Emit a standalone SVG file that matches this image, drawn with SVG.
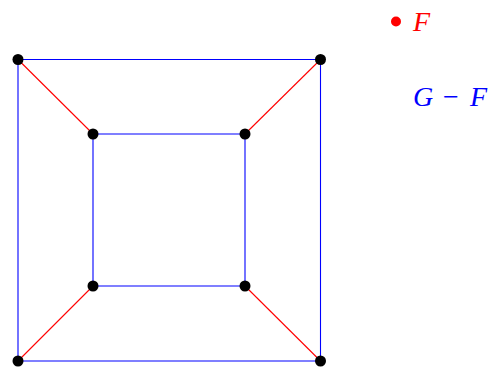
<svg xmlns="http://www.w3.org/2000/svg" width="496" height="372" viewBox="0 0 496 372">
<style>
.b{stroke:#0000ff;stroke-width:1.1;fill:none}
.r{stroke:#ff0000;stroke-width:1.1;fill:none}
.v{fill:#000}
.t{font-family:"Liberation Serif",serif;font-style:italic;font-size:28px}
</style>
<rect width="496" height="372" fill="#fff"/>
<g id="connectors">
<line class="b" x1="18" y1="59.5" x2="320.5" y2="59.5"/>
<line class="b" x1="18" y1="361" x2="320.5" y2="361"/>
<line class="b" x1="18" y1="59.5" x2="18" y2="361"/>
<line class="b" x1="320.5" y1="59.5" x2="320.5" y2="361"/>
<line class="b" x1="93" y1="134" x2="245" y2="134"/>
<line class="b" x1="93" y1="286" x2="245" y2="286"/>
<line class="b" x1="93" y1="134" x2="93" y2="286"/>
<line class="b" x1="245" y1="134" x2="245" y2="286"/>
<line class="r" x1="18" y1="59.5" x2="93" y2="134"/>
<line class="r" x1="320.5" y1="59.5" x2="245" y2="134"/>
<line class="r" x1="18" y1="361" x2="93" y2="286"/>
<line class="r" x1="320.5" y1="361" x2="245" y2="286"/>
</g>
<g id="n1"><circle class="v" cx="18" cy="59.5" r="5.5"/></g>
<g id="n2"><circle class="v" cx="320.5" cy="59.5" r="5.5"/></g>
<g id="n3"><circle class="v" cx="18" cy="361" r="5.5"/></g>
<g id="n4"><circle class="v" cx="320.5" cy="361" r="5.5"/></g>
<g id="n5"><circle class="v" cx="93" cy="134" r="5.5"/></g>
<g id="n6"><circle class="v" cx="245" cy="134" r="5.5"/></g>
<g id="n7"><circle class="v" cx="93" cy="286" r="5.5"/></g>
<g id="n8"><circle class="v" cx="245" cy="286" r="5.5"/></g>
<g id="legend">
<circle cx="396" cy="21.5" r="5" fill="#ff0000"/>
<text class="t" x="413" y="31" fill="#ff0000">F</text>
<text class="t" x="413" y="106" fill="#0000ff">G</text>
<text x="443" y="106" fill="#0000ff" style="font-family:'Liberation Serif',serif;font-size:28px">−</text>
<text class="t" x="470" y="106" fill="#0000ff">F</text>
</g>
</svg>
